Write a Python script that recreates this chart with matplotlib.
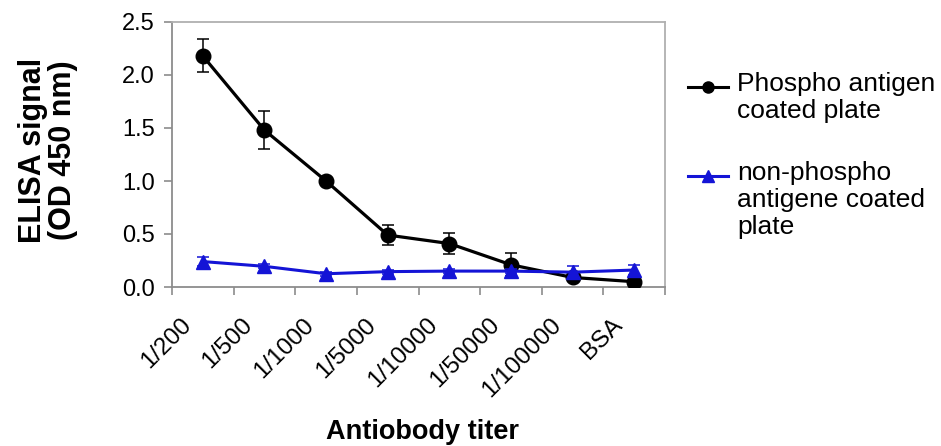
import matplotlib
matplotlib.use("Agg")
import matplotlib.pyplot as plt
from matplotlib.lines import Line2D
from matplotlib.transforms import ScaledTranslation
import numpy as np

plt.rcParams['font.family'] = ['Liberation Sans', 'DejaVu Sans']

categories = ["1/200", "1/500", "1/1000", "1/5000", "1/10000", "1/50000", "1/100000", "BSA"]
phospho = [2.18, 1.48, 1.00, 0.49, 0.41, 0.21, 0.09, 0.05]
phospho_err = [0.155, 0.18, 0.02, 0.095, 0.095, 0.11, 0.03, 0.02]
nonphospho = [0.24, 0.195, 0.125, 0.145, 0.15, 0.15, 0.14, 0.16]
nonphospho_err = [0.045, 0.02, 0.02, 0.02, 0.02, 0.02, 0.06, 0.05]
label_phospho = "Phospho antigen\ncoated plate"
label_nonphospho = "non-phospho\nantigene coated\nplate"
yticks = [0.0, 0.5, 1.0, 1.5, 2.0, 2.5]

W, H = 941, 446
fig = plt.figure(figsize=(W / 100, H / 100), dpi=100)
fig.patch.set_facecolor('white')

left, right, top, bottom = 172, 665, 22, 287
ax = fig.add_axes([left / W, (H - bottom) / H, (right - left) / W, (bottom - top) / H])

x = np.arange(len(categories))
black = '#000000'
blue = '#1414d6'

ax.errorbar(x, phospho, yerr=phospho_err, color=black, lw=2.3, marker='o', ms=10.5,
            ecolor=black, elinewidth=1.1, capsize=4.5, capthick=1.1, zorder=3)
ax.errorbar(x, nonphospho, yerr=nonphospho_err, color=blue, lw=2.2, marker='^', ms=9.5,
            ecolor=blue, elinewidth=1.1, capsize=4.5, capthick=1.1, zorder=4)

ax.set_xlim(-0.5, len(categories) - 0.5)
ax.set_ylim(0, 2.5)
ax.set_yticks(yticks)
ax.set_yticklabels([f"{v:.1f}" for v in yticks], fontsize=17)

# labels at category centres (major), tick marks at boundaries (minor)
ax.set_xticks(x)
ax.set_xticklabels(categories, fontsize=17.5, rotation=45, ha='right',
                   va='center', rotation_mode='anchor')
ax.set_xticks(np.arange(len(categories) + 1) - 0.5, minor=True)
ax.tick_params(axis='x', which='major', length=0, pad=25)
ax.tick_params(axis='x', which='minor', length=6, width=1.2, color='#8c8c8c', direction='out')
ax.tick_params(axis='y', which='major', length=5.5, width=1.2, color='#8c8c8c', direction='out', pad=7)

for lab in ax.get_xticklabels():
    lab.set_transform(lab.get_transform() + ScaledTranslation(-0.15, 0, fig.dpi_scale_trans))

for s in ax.spines.values():
    s.set_color('#8c8c8c')
    s.set_linewidth(1.3)
ax.spines['top'].set_color('#b0b0b0')
ax.spines['right'].set_color('#b0b0b0')

ax.set_ylabel("ELISA signal\n(OD 450 nm)", fontsize=22, fontweight='bold',
              linespacing=1.0, va='center', ha='center')
ax.yaxis.set_label_coords((48 - left) / (right - left), 0.515)
ax.set_xlabel("Antiobody titer", fontsize=19.5, fontweight='bold', va='center')
ax.xaxis.set_label_coords((423 - left) / (right - left), -(432 - bottom) / (bottom - top))

# legend (drawn at the right of the plot)
def px(xp, yp):
    return xp / W, (H - yp) / H

for (ly, ty, col, mk, ms, lbl) in [(87, 72, black, 'o', 8, label_phospho),
                                   (176, 161, blue, '^', 8, label_nonphospho)]:
    x0, y0 = px(688, ly)
    x1, _ = px(728, ly)
    fig.add_artist(Line2D([x0, x1], [y0, y0], color=col, lw=2.2, transform=fig.transFigure))
    fig.add_artist(Line2D([(x0 + x1) / 2], [y0], color=col, marker=mk, ms=ms,
                          transform=fig.transFigure))
    tx, tyy = px(737, ty)
    fig.text(tx, tyy, lbl, fontsize=19, ha='left', va='top', linespacing=1.15)

fig.savefig("out.png", dpi=100, facecolor='white')
